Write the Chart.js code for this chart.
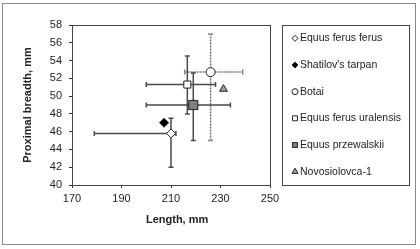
<!DOCTYPE html>
<html>
<head>
<meta charset="utf-8">
<script src="https://cdn.jsdelivr.net/npm/chart.js@4.4.1/dist/chart.umd.min.js"></script>
<style>
  body { margin: 0; background: #fff; }
  canvas { display: block; }
</style>
</head>
<body>
<canvas id="chart" width="420" height="249"></canvas>
<script>
// values
var seriesNames = ["Equus ferus ferus", "Shatilov's tarpan", "Botai", "Equus ferus uralensis", "Equus przewalskii", "Novosiolovca-1"];
var lengthMean = [210, 207.2, 226, 216.6, 219, 231.2];
var breadthMean = [45.8, 47.0, 52.7, 51.3, 49.0, 50.8];
var lengthMin = [179, null, 215.5, 200, 200, null];
var lengthMax = [212, null, 239, 228, 234, null];
var breadthMin = [42, null, 45, 48, 45, null];
var breadthMax = [47.5, null, 57, 54.5, 52.6, null];
var xTicks = [170, 190, 210, 230, 250];
var yTicks = [40, 42, 44, 46, 48, 50, 52, 54, 56, 58];

var pointStyles = ['rectRot', 'rectRot', 'circle', 'rect', 'rect', 'triangle'];
var fills = ['#ffffff', '#000000', '#ffffff', '#ffffff', '#808080', '#a0a0a0'];
var radii = [4.5, 4.5, 4.5, 5, 6.5, 4.5];
var legendRadii = [3, 3, 3, 3.5, 3.5, 3.5];
var dashed = [false, false, true, false, false, false];

var FONT = "'Liberation Sans', Arial, sans-serif";

var datasets = [];
for (var i = 0; i < seriesNames.length; i++) {
    datasets.push({
        label: seriesNames[i],
        data: [{x: lengthMean[i], y: breadthMean[i]}],
        pointStyle: pointStyles[i],
        pointRadius: radii[i],
        pointHoverRadius: radii[i],
        backgroundColor: fills[i],
        borderColor: '#222',
        borderWidth: 1,
        errX: [lengthMin[i], lengthMax[i]],
        errY: [breadthMin[i], breadthMax[i]],
        dashed: dashed[i],
        legendRadius: legendRadii[i]
    });
}

// error bars, drawn under the markers
var errorBars = {
    id: 'errorBars',
    beforeDatasetsDraw: function(chart) {
        var ctx = chart.ctx, x = chart.scales.x, y = chart.scales.y;
        var cap = 2.5;
        chart.data.datasets.forEach(function(ds) {
            var px = x.getPixelForValue(ds.data[0].x);
            var py = y.getPixelForValue(ds.data[0].y);
            ctx.save();
            ctx.lineWidth = 1.5;
            ctx.strokeStyle = ds.dashed ? '#777' : '#4a4a4a';
            ctx.setLineDash(ds.dashed ? [2, 1] : []);
            if (ds.errX[0] != null) {
                var x0 = x.getPixelForValue(ds.errX[0]), x1 = x.getPixelForValue(ds.errX[1]);
                ctx.beginPath();
                ctx.moveTo(x0, py); ctx.lineTo(x1, py);
                ctx.moveTo(x0, py - cap); ctx.lineTo(x0, py + cap);
                ctx.moveTo(x1, py - cap); ctx.lineTo(x1, py + cap);
                ctx.stroke();
            }
            if (ds.errY[0] != null) {
                var y0 = y.getPixelForValue(ds.errY[0]), y1 = y.getPixelForValue(ds.errY[1]);
                ctx.beginPath();
                ctx.moveTo(px, y0); ctx.lineTo(px, y1);
                ctx.moveTo(px - cap, y0); ctx.lineTo(px + cap, y0);
                ctx.moveTo(px - cap, y1); ctx.lineTo(px + cap, y1);
                ctx.stroke();
            }
            ctx.restore();
        });
    }
};

// outer frame, plot frame and boxed legend
var frames = {
    id: 'frames',
    beforeDraw: function(chart) {
        var ctx = chart.ctx;
        ctx.save();
        ctx.fillStyle = '#fff';
        ctx.fillRect(0, 0, chart.width, chart.height);
        ctx.strokeStyle = '#888';
        ctx.lineWidth = 1;
        ctx.strokeRect(2.5, 3.5, chart.width - 7, chart.height - 8);
        ctx.restore();
    },
    afterDraw: function(chart) {
        var ctx = chart.ctx, a = chart.chartArea;
        ctx.save();
        ctx.strokeStyle = '#444';
        ctx.lineWidth = 1;
        ctx.strokeRect(Math.round(a.left) + 0.5, Math.round(a.top) + 0.5, Math.round(a.right - a.left), Math.round(a.bottom - a.top));

        var bx0 = Math.round(a.right) + 12, bx1 = chart.width - 11;
        var by0 = Math.round(a.top), by1 = Math.round(a.bottom);
        ctx.strokeRect(bx0 + 0.5, by0 + 0.5, bx1 - bx0, by1 - by0);

        var items = chart.data.datasets;
        var rowH = (by1 - by0) / items.length;
        ctx.font = '10.5px ' + FONT;
        ctx.textBaseline = 'middle';
        ctx.textAlign = 'left';
        items.forEach(function(ds, i) {
            var cy = by0 + rowH * (i + 0.5);
            var cx = bx0 + 13;
            ctx.fillStyle = ds.backgroundColor;
            ctx.strokeStyle = '#222';
            ctx.lineWidth = 1;
            Chart.helpers.drawPoint(ctx, {pointStyle: ds.pointStyle, radius: ds.legendRadius, borderWidth: 1, rotation: 0}, cx, cy);
            ctx.fillStyle = '#222';
            ctx.fillText(ds.label, cx + 5, cy);
        });
        ctx.restore();
    }
};

var ctx = document.getElementById('chart');

var myChart = new Chart(ctx, {
    type: 'scatter',
    data: { datasets: datasets },
    options: {
        responsive: false,
        animation: false,
        devicePixelRatio: 1,
        layout: { padding: { left: 0, top: 25, right: 150, bottom: 0 } },
        plugins: {
            legend: { display: false },
            tooltip: { enabled: false }
        },
        scales: {
            x: {
                type: 'linear',
                min: 170,
                max: 250,
                afterBuildTicks: function(scale) {
                    scale.ticks = xTicks.map(function(v) { return {value: v}; });
                },
                afterFit: function(scale) { scale.height = 64; },
                grid: { drawOnChartArea: false, drawTicks: true, tickLength: 3, color: '#333' },
                border: { display: true, color: '#333', width: 1 },
                ticks: { color: '#222', padding: 4, font: { family: FONT, size: 11 } },
                title: {
                    display: true,
                    text: '\u00a0\u00a0\u00a0\u00a0Length, mm',
                    color: '#222',
                    font: { family: FONT, size: 11, weight: 'bold' },
                    padding: { top: 0, bottom: 22.4 }
                }
            },
            y: {
                type: 'linear',
                min: 40,
                max: 58,
                afterBuildTicks: function(scale) {
                    scale.ticks = yTicks.map(function(v) { return {value: v}; });
                },
                afterFit: function(scale) { scale.width = 72; },
                grid: { drawOnChartArea: false, drawTicks: true, tickLength: 3, color: '#333' },
                border: { display: true, color: '#333', width: 1 },
                ticks: { color: '#222', padding: 7, font: { family: FONT, size: 11 } },
                title: {
                    display: true,
                    text: 'Proximal breadth, mm',
                    color: '#222',
                    font: { family: FONT, size: 11, weight: 'bold' },
                    padding: { top: 21.4, bottom: 0 }
                }
            }
        }
    },
    plugins: [errorBars, frames]
});
</script>
</body>
</html>
